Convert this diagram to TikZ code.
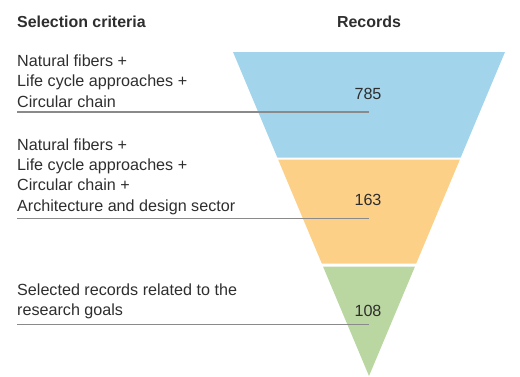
\documentclass[tikz,border=0pt]{standalone}
\usepackage{fontspec}
\setmainfont{Liberation Sans}
\definecolor{fblue}{HTML}{A2D4EC}
\definecolor{forange}{HTML}{FDD088}
\definecolor{fgreen}{HTML}{BBD7A1}
\definecolor{txt}{HTML}{2E2E2E}
\definecolor{rule}{HTML}{8A8A8A}
\begin{document}
\begin{tikzpicture}[x=1bp,y=-1bp,
  lbl/.style={anchor=base west,inner sep=0pt,text=txt,font=\fontsize{16.2}{19}\selectfont},
  head/.style={inner sep=0pt,text=txt,font=\fontsize{16}{19}\selectfont\bfseries},
  num/.style={anchor=base,inner sep=0pt,text=txt,font=\fontsize{16.2}{19}\selectfont},
  uline/.style={draw=rule,line width=1.1bp}]
\useasboundingbox (0,0) rectangle (520,376);
% funnel bands
\fill[fblue] (233,52) -- (505,52) -- (460.7,157.5) -- (277.3,157.5) -- cycle;
\fill[forange] (278.1,159.5) -- (459.9,159.5) -- (416.2,263.5) -- (321.8,263.5) -- cycle;
\fill[fgreen] (323,266.5) -- (415,266.5) -- (369,376) -- cycle;
% headers
\node[head,anchor=base west] (hsel) at (17,27) {Selection criteria};
\node[head,anchor=base] (hrec) at (369,27) {Records};
% block 1
\node[lbl] (a1) at (17,66.5) {Natural fibers +};
\node[lbl] (a2) at (17,86.8) {Life cycle approaches +};
\node[lbl] (a3) at (17,107) {Circular chain};
\coordinate (l1a) at (17,112);
\coordinate (l1b) at (369,112);
\draw[uline] (l1a) -- (l1b);
\node[num] (n1) at (368,99) {785};
% block 2
\node[lbl] (b1) at (17,150.3) {Natural fibers +};
\node[lbl] (b2) at (17,170.6) {Life cycle approaches +};
\node[lbl] (b3) at (17,190.9) {Circular chain +};
\node[lbl] (b4) at (17,211.2) {Architecture and design sector};
\coordinate (l2a) at (17,218.3);
\coordinate (l2b) at (369,218.3);
\draw[uline] (l2a) -- (l2b);
\node[num] (n2) at (368,205) {163};
% block 3
\node[lbl] (c1) at (17,295.7) {Selected records related to the};
\node[lbl] (c2) at (17,315.8) {research goals};
\coordinate (l3a) at (17,324.7);
\coordinate (l3b) at (369,324.7);
\draw[uline] (l3a) -- (l3b);
\node[num] (n3) at (368,316.7) {108};
\end{tikzpicture}
\end{document}
